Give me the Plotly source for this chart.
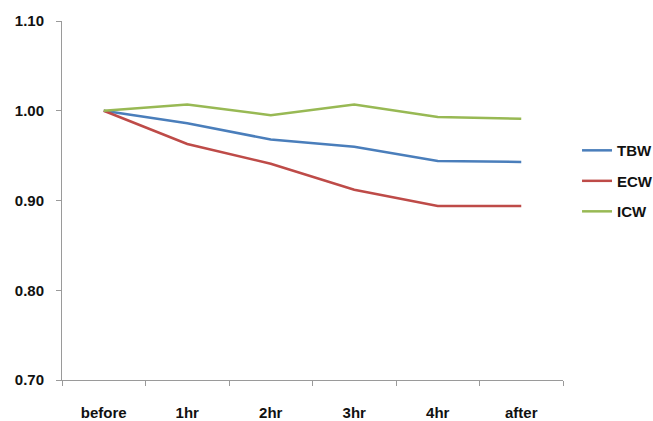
import plotly.graph_objects as go

categories = ["before", "1hr", "2hr", "3hr", "4hr", "after"]
tbw = [1.000, 0.986, 0.968, 0.960, 0.944, 0.943]
ecw = [1.000, 0.963, 0.941, 0.912, 0.894, 0.894]
icw = [1.000, 1.007, 0.995, 1.007, 0.993, 0.991]
series_names = ["TBW", "ECW", "ICW"]
series_colors = ["#4A7EBB", "#BE4B48", "#98B954"]
y_ticks = [0.70, 0.80, 0.90, 1.00, 1.10]

FONT = "Liberation Sans, Arial, sans-serif"

fig = go.Figure()
for name, vals, col in zip(series_names, [tbw, ecw, icw], series_colors):
    fig.add_trace(go.Scatter(
        x=categories, y=vals, mode="lines", name=name, legendgroup=name,
        line=dict(color=col, width=2.5),
    ))

fig.update_layout(
    width=653, height=421,
    margin=dict(l=62, r=90, t=21, b=41, autoexpand=False),
    paper_bgcolor="white", plot_bgcolor="white",
    font=dict(family=FONT, size=15, color="#111111"),
    showlegend=True,
    legend=dict(
        x=1.028, y=0.685, xanchor="left", yanchor="top",
        font=dict(family=FONT, size=15, color="#111111", weight="bold"),
        tracegroupgap=8, traceorder="grouped",
        bgcolor="rgba(0,0,0,0)",
    ),
    xaxis=dict(
        type="category", range=[-0.5, 5.5],
        showline=True, linecolor="#9a9a9a", linewidth=1,
        ticks="outside", tickson="boundaries", ticklen=5, tickcolor="#9a9a9a",
        showgrid=False, zeroline=False,
        tickfont=dict(family=FONT, size=15, color="#111111", weight="bold"),
        ticklabelstandoff=19,
    ),
    yaxis=dict(
        range=[0.70, 1.10], tickvals=y_ticks,
        ticktext=[f"{v:.2f}" for v in y_ticks],
        showline=True, linecolor="#9a9a9a", linewidth=1,
        ticks="outside", ticklen=5, tickcolor="#9a9a9a",
        showgrid=False, zeroline=False,
        tickfont=dict(family=FONT, size=15, color="#111111", weight="bold"),
        ticklabelstandoff=9,
    ),
)

fig.write_html("out.html")
